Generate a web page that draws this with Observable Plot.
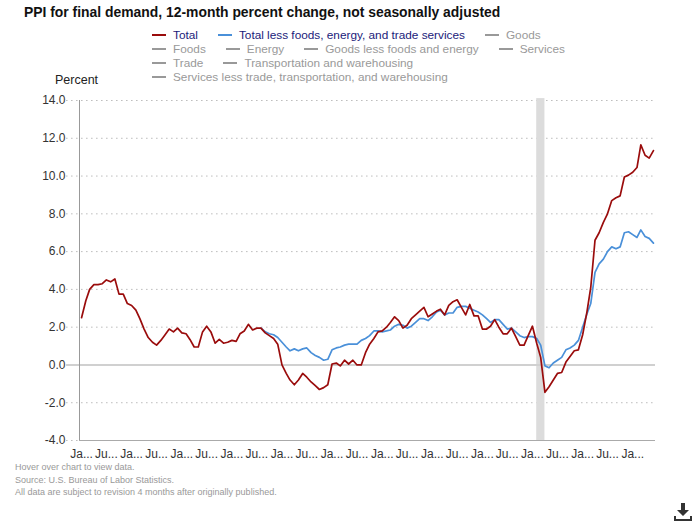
<!DOCTYPE html>
<html><head><meta charset="utf-8">
<script src="https://cdn.jsdelivr.net/npm/d3@7"></script>
<script src="https://cdn.jsdelivr.net/npm/@observablehq/plot@0.6"></script>
<style>
body{margin:0;background:#fff;font-family:"Liberation Sans",Arial,sans-serif;}
#wrap{position:relative;width:697px;height:531px;overflow:hidden;background:#fff;}
#chart{position:absolute;left:0;top:0;}
#title{position:absolute;left:24px;top:4px;font-size:13.9px;font-weight:bold;color:#111;white-space:nowrap;}
#legend{position:absolute;left:152px;top:28px;width:445px;display:flex;flex-wrap:wrap;font-size:11.8px;line-height:14px;}
.item{display:flex;align-items:center;margin-right:20px;white-space:nowrap;color:#999;}
.item .sw{width:14px;height:2px;margin-right:7px;background:#999;}
#ylab{position:absolute;left:55px;top:73px;font-size:12.5px;color:#222;}
#foot{position:absolute;left:15px;top:461px;font-size:9px;line-height:12.6px;color:#999;}
#dl{position:absolute;left:674px;top:502px;}
</style></head>
<body>
<div id="wrap">
  <div id="chart"></div>
  <div id="title"></div>
  <div id="legend"></div>
  <div id="ylab"></div>
  <div id="foot"></div>
  <svg id="dl" width="18" height="20" viewBox="0 0 18 20"><path d="M7 1h4v7h4l-6 6-6-6h4z" fill="#333"/><path d="M1 14v4h16v-4" fill="none" stroke="#333" stroke-width="2"/></svg>
</div>
<script>
// ---------- data ----------
const titleText = "PPI for final demand, 12-month percent change, not seasonally adjusted";
const yLabel = "Percent";
const seriesNames = ["Total", "Total less foods, energy, and trade services", "Goods", "Foods", "Energy",
  "Goods less foods and energy", "Services", "Trade", "Transportation and warehousing",
  "Services less trade, transportation, and warehousing"];
const seriesActive = [true, true, false, false, false, false, false, false, false, false];
const seriesColors = ["#9a0c0c", "#4a90d9", "#999", "#999", "#999", "#999", "#999", "#999", "#999", "#999"];
const footLines = ["Hover over chart to view data.", "Source: U.S. Bureau of Labor Statistics.",
  "All data are subject to revision 4 months after originally published."];
const tickLabels = ["Ja...", "Ju..."];
const yTicks = [-4, -2, 0, 2, 4, 6, 8, 10, 12, 14];

// Total: Jan 2011 - Jun 2022 (monthly)
const totalStart = [2011, 0];
const totalValues = [
  2.5, 3.4, 4.0, 4.25, 4.25, 4.3, 4.5, 4.4, 4.55, 3.75, 3.75, 3.25,
  3.15, 2.9, 2.45, 1.9, 1.45, 1.2, 1.05, 1.3, 1.6, 1.9, 1.75, 1.95,
  1.7, 1.65, 1.35, 0.95, 0.95, 1.75, 2.05, 1.75, 1.15, 1.35, 1.15, 1.2,
  1.3, 1.25, 1.65, 1.8, 2.15, 1.85, 1.95, 1.95, 1.7, 1.55, 1.4, 1.1,
  0.0, -0.45, -0.8, -1.05, -0.8, -0.45, -0.65, -0.9, -1.1, -1.3, -1.2, -1.05,
  0.05, 0.1, -0.05, 0.25, 0.05, 0.25, 0.0, 0.0, 0.65, 1.1, 1.4, 1.75,
  1.8, 2.0, 2.25, 2.55, 2.35, 1.95, 2.1, 2.45, 2.65, 2.85, 3.05, 2.55,
  2.7, 2.85, 2.95, 2.65, 3.15, 3.35, 3.45, 3.05, 2.65, 3.2, 2.6, 2.6,
  1.9, 1.9, 2.05, 2.4, 2.0, 1.65, 1.65, 1.95, 1.5, 1.05, 1.05, 1.55,
  2.05, 1.15, 0.4, -1.45, -1.15, -0.8, -0.45, -0.4, 0.15, 0.45, 0.75, 0.8,
  1.6, 2.8, 4.1, 6.6, 7.0, 7.55, 8.0, 8.7, 8.85, 8.95, 9.95, 10.05,
  10.2, 10.45, 11.65, 11.1, 10.95, 11.35
];
// Total less foods, energy, and trade services: Aug 2014 - Jun 2022
const coreStart = [2014, 7];
const coreValues = [
  1.95, 1.75, 1.65, 1.6, 1.45,
  1.2, 0.95, 0.75, 0.85, 0.75, 0.85, 0.9, 0.65, 0.5, 0.4, 0.25, 0.3,
  0.8, 0.9, 0.95, 1.05, 1.1, 1.1, 1.1, 1.3, 1.4, 1.55, 1.8, 1.8,
  1.75, 1.8, 1.85, 2.05, 2.15, 2.1, 1.95, 2.05, 2.25, 2.45, 2.45, 2.35,
  2.55, 2.8, 2.9, 2.65, 2.75, 2.75, 3.05, 3.1, 3.1, 3.0, 2.9, 2.8,
  2.65, 2.45, 2.25, 2.4, 2.4, 2.15, 1.9, 1.95, 1.75, 1.55, 1.45, 1.5,
  1.5, 1.4, 1.05, -0.05, -0.15, 0.1, 0.25, 0.4, 0.8, 0.9, 1.05, 1.3,
  2.0, 2.7, 3.25, 4.9, 5.35, 5.6, 6.0, 6.25, 6.15, 6.25, 7.0, 7.05,
  6.9, 6.75, 7.15, 6.8, 6.7, 6.45
];
// Recession (shaded)
const recessionStart = [2020, 1];
const recessionEnd = [2020, 3];

// ---------- build ----------
const ym = ([y, m]) => new Date(Date.UTC(y, m, 1));
const toSeries = (start, vals, name) => vals.map((v, i) => ({date: ym([start[0], start[1] + i]), value: v, name}));
const total = toSeries(totalStart, totalValues, seriesNames[0]);
const core = toSeries(coreStart, coreValues, seriesNames[1]);
const xDomain = [new Date(Date.UTC(2010, 11, 17)), new Date(Date.UTC(2022, 5, 16))];
const xTicks = d3.utcMonth.every(6).range(ym([2011, 0]), ym([2022, 1]));
const recessions = [{x1: ym(recessionStart), x2: ym(recessionEnd)}];
const gridX1 = new Date(xDomain[0].getTime() - 3.1 * 30.44 * 864e5);

document.getElementById("title").textContent = titleText;
document.getElementById("ylab").textContent = yLabel;
document.getElementById("foot").innerHTML = footLines.map(s => `<div>${s}</div>`).join("");
const leg = document.getElementById("legend");
seriesNames.forEach((n, i) => {
  const d = document.createElement("div");
  d.className = "item";
  d.innerHTML = `<span class="sw" style="background:${seriesColors[i]}"></span><span style="color:${seriesActive[i] ? "#1a1a7a" : "#999"}">${n}</span>`;
  leg.appendChild(d);
});

const chart = Plot.plot({
  width: 697,
  height: 531,
  marginLeft: 79,
  marginRight: 42,
  marginTop: 100,
  marginBottom: 91,
  style: {fontFamily: "'Liberation Sans', Arial, sans-serif", fontSize: "12px", color: "#333", background: "transparent", overflow: "visible"},
  x: {type: "utc", domain: xDomain, ticks: xTicks, tickSize: 0, tickPadding: 9,
      tickFormat: d => tickLabels[d.getUTCMonth() === 0 ? 0 : 1], label: null},
  y: {domain: [-4, 14], ticks: yTicks, tickSize: 0, tickPadding: 14, tickFormat: d => d.toFixed(1), label: null},
  marks: [
    Plot.ruleY(yTicks.filter(t => t !== 0 && t !== -4), {x1: gridX1, x2: xDomain[1], stroke: "#bbb", strokeDasharray: "1.5,3.5", strokeWidth: 1}),
    Plot.ruleY([-4], {x1: gridX1, x2: xDomain[0], stroke: "#bbb", strokeDasharray: "1.5,3.5"}),
    Plot.rect(recessions, {x1: "x1", x2: "x2", y1: -4, y2: 14.1, fill: "#dcdcdc"}),
    Plot.ruleY([0], {x1: gridX1, x2: xDomain[1], stroke: "#d0d0d0", strokeWidth: 2}),
    Plot.ruleY([-4], {x1: xDomain[0], x2: xDomain[1], stroke: "#aaa", strokeWidth: 1.2}),
    Plot.ruleX([xDomain[0]], {y1: -4, y2: 14, stroke: "#999", strokeWidth: 1}),
    Plot.line(core, {x: "date", y: "value", stroke: seriesColors[1], strokeWidth: 1.7}),
    Plot.line(total, {x: "date", y: "value", stroke: seriesColors[0], strokeWidth: 1.7})
  ]
});
document.getElementById("chart").appendChild(chart);
</script>
</body></html>
